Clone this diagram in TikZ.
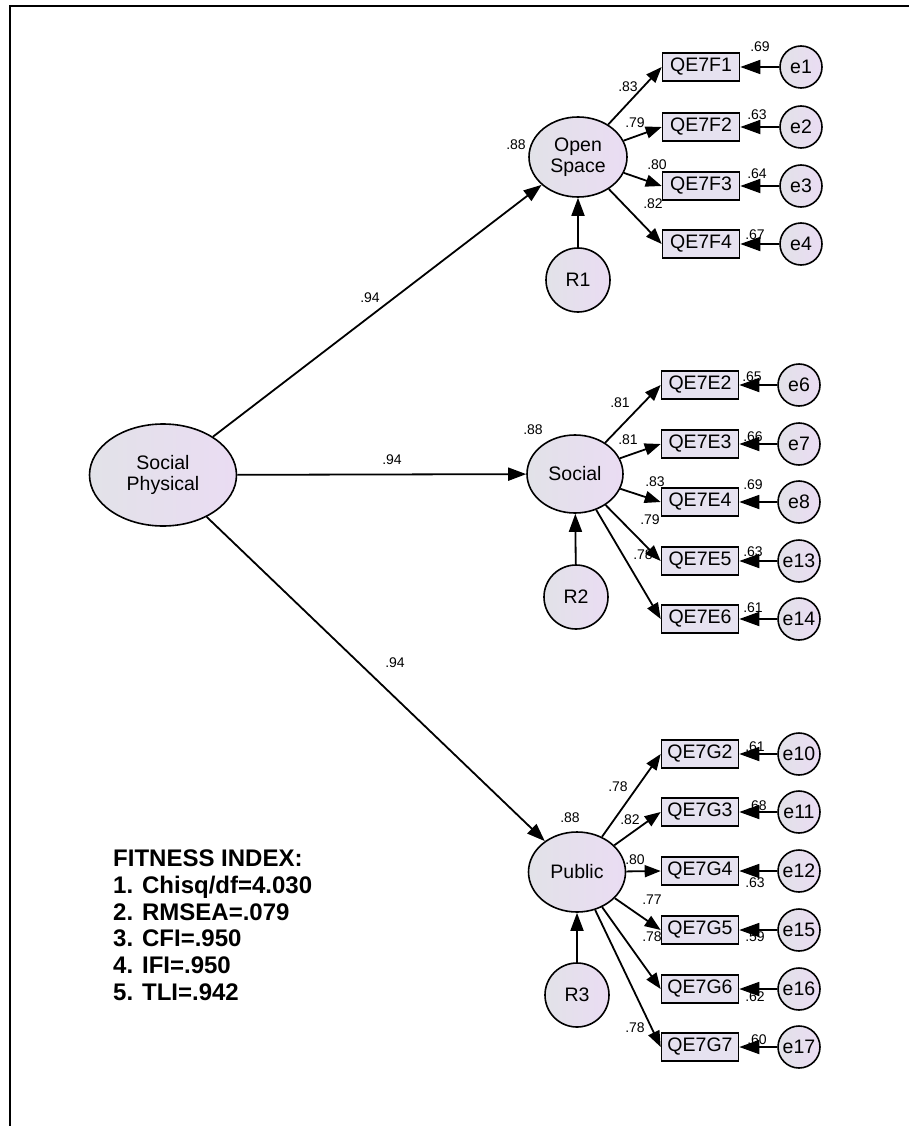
\documentclass[tikz,border=0pt]{standalone}
\usepackage{fontspec}
\setmainfont{Liberation Sans}
\usetikzlibrary{arrows.meta,shapes.geometric}
\definecolor{boxfill}{HTML}{E6E2F0}
\definecolor{lavL}{HTML}{E2E2E8}
\definecolor{lavR}{HTML}{EADCF3}
\tikzset{
  latent/.style={ellipse, draw, line width=1.6, left color=lavL, right color=lavR, inner sep=0pt, font=\fontsize{19.5}{21}\selectfont, align=center},
  obs/.style={rectangle, draw, line width=1.6, fill=boxfill, minimum width=77, minimum height=28, inner sep=0pt, font=\fontsize{19.5}{21}\selectfont},
  err/.style={circle, draw, line width=1.6, left color=lavL, right color=lavR, minimum size=42, inner sep=0pt, font=\fontsize{19.5}{21}\selectfont},
  res/.style={circle, draw, line width=1.6, left color=lavL, right color=lavR, minimum size=64, inner sep=0pt, font=\fontsize{19.5}{21}\selectfont},
  num/.style={font=\fontsize{14}{14}\selectfont, inner sep=0pt},
  fit/.style={font=\fontsize{24}{24}\selectfont\bfseries, inner sep=0pt, anchor=base west},
  lpath/.style={line width=1.8, -{Triangle[length=16,width=12]}},
  spath/.style={line width=1.8, -{Triangle[length=18,width=13]}},
  epath/.style={line width=1.8, -{Triangle[length=20,width=14]}},
}
\begin{document}
\begin{tikzpicture}[x=1pt,y=-1pt]
\useasboundingbox (0,0) rectangle (909,1126);
\fill[white] (0,0) rectangle (909,1126);
\draw[line width=2] (10,1126) -- (10,6) -- (909,6);

% latent variables
\node[latent, minimum width=147, minimum height=102] (SP) at (163,475) {Social\\Physical};
\node[latent, minimum width=98, minimum height=80] (OS) at (578,157) {Open\\Space};
\node[latent, minimum width=96, minimum height=78] (SO) at (575,474) {Social};
\node[latent, minimum width=97, minimum height=80] (PU) at (577,872) {Public};

% residuals
\node[res] (R1) at (578,280) {R1};
\node[res] (R2) at (576,597) {R2};
\node[res] (R3) at (577,995) {R3};

% observed
\node[obs] (F1) at (701,67) {QE7F1};
\node[obs] (F2) at (701,127) {QE7F2};
\node[obs] (F3) at (701,186) {QE7F3};
\node[obs] (F4) at (701,244) {QE7F4};
\node[obs] (E2) at (700,385) {QE7E2};
\node[obs] (E3) at (700,444) {QE7E3};
\node[obs] (E4) at (700,502) {QE7E4};
\node[obs] (E5) at (700,561) {QE7E5};
\node[obs] (E6) at (700,619) {QE7E6};
\node[obs] (G2) at (700,754) {QE7G2};
\node[obs] (G3) at (700,812) {QE7G3};
\node[obs] (G4) at (700,871) {QE7G4};
\node[obs] (G5) at (700,930) {QE7G5};
\node[obs] (G6) at (700,989) {QE7G6};
\node[obs] (G7) at (700,1047) {QE7G7};

% errors
\node[err] (e1) at (801,67) {e1};
\node[err] (e2) at (801,127) {e2};
\node[err] (e3) at (801,186) {e3};
\node[err] (e4) at (801,244) {e4};
\node[err] (e6) at (799,385) {e6};
\node[err] (e7) at (799,444) {e7};
\node[err] (e8) at (799,502) {e8};
\node[err] (e13) at (799,561) {e13};
\node[err] (e14) at (799,619) {e14};
\node[err] (e10) at (799,754) {e10};
\node[err] (e11) at (799,812) {e11};
\node[err] (e12) at (799,871) {e12};
\node[err] (e15) at (799,930) {e15};
\node[err] (e16) at (799,989) {e16};
\node[err] (e17) at (799,1047) {e17};

% numbers
\node[num] (n1) at (370,298) {.94};
\node[num] (n2) at (392,460) {.94};
\node[num] (n3) at (395,663) {.94};

\node[num] (a0) at (516,145) {.88};
\node[num] (a1) at (628,87) {.83};
\node[num] (a2) at (635,123) {.79};
\node[num] (a3) at (657,165) {.80};
\node[num] (a4) at (653,204) {.82};
\node[num] (a5) at (760,47) {.69};
\node[num] (a6) at (757,115) {.63};
\node[num] (a7) at (757,174) {.64};
\node[num] (a8) at (755,235) {.67};

\node[num] (b0) at (533,430) {.88};
\node[num] (b1) at (620,403) {.81};
\node[num] (b2) at (628,440) {.81};
\node[num] (b3) at (655,482) {.83};
\node[num] (b4) at (650,520) {.79};
\node[num] (b5) at (643,555) {.78};
\node[num] (b6) at (752,377) {.65};
\node[num] (b7) at (753,437) {.66};
\node[num] (b8) at (753,485) {.69};
\node[num] (b9) at (753,552) {.63};
\node[num] (b10) at (753,608) {.61};

\node[num] (c0) at (570,818) {.88};
\node[num] (c1) at (618,787) {.78};
\node[num] (c2) at (630,820) {.82};
\node[num] (c3) at (635,860) {.80};
\node[num] (c4) at (652,900) {.77};
\node[num] (c5) at (652,937) {.78};
\node[num] (c6) at (635,1028) {.78};
\node[num] (c7) at (755,747) {.61};
\node[num] (c8) at (757,806) {.68};
\node[num] (c9) at (755,883) {.63};
\node[num] (c10) at (755,937) {.59};
\node[num] (c11) at (755,997) {.62};
\node[num] (c12) at (757,1040) {.60};

% structural paths
\draw[spath] (SP) -- (OS);
\draw[spath] (SP) -- (SO);
\draw[spath] (SP) -- (PU);
\draw[spath] (R1) -- (OS);
\draw[spath] (R2) -- (SO);
\draw[spath] (R3) -- (PU);

% loadings
\foreach \b in {F1,F2,F3,F4} \draw[lpath] (OS) -- (\b.west);
\foreach \b in {E2,E3,E4,E5,E6} \draw[lpath] (SO) -- (\b.west);
\foreach \b in {G2,G3,G4,G5,G6,G7} \draw[lpath] (PU) -- (\b.west);

% error paths
\foreach \e/\b in {e1/F1,e2/F2,e3/F3,e4/F4,e6/E2,e7/E3,e8/E4,e13/E5,e14/E6,e10/G2,e11/G3,e12/G4,e15/G5,e16/G6,e17/G7}
  \draw[epath] (\e) -- (\b);

% fitness index
\node[fit] (t0) at (113,866.6) {FITNESS INDEX:};
\node[fit] (t1) at (113,893.3) {1. Chisq/df=4.030};
\node[fit] (t2) at (113,920) {2. RMSEA=.079};
\node[fit] (t3) at (113,946.7) {3. CFI=.950};
\node[fit] (t4) at (113,973.4) {4. IFI=.950};
\node[fit] (t5) at (113,1000) {5. TLI=.942};
\end{tikzpicture}
\end{document}
